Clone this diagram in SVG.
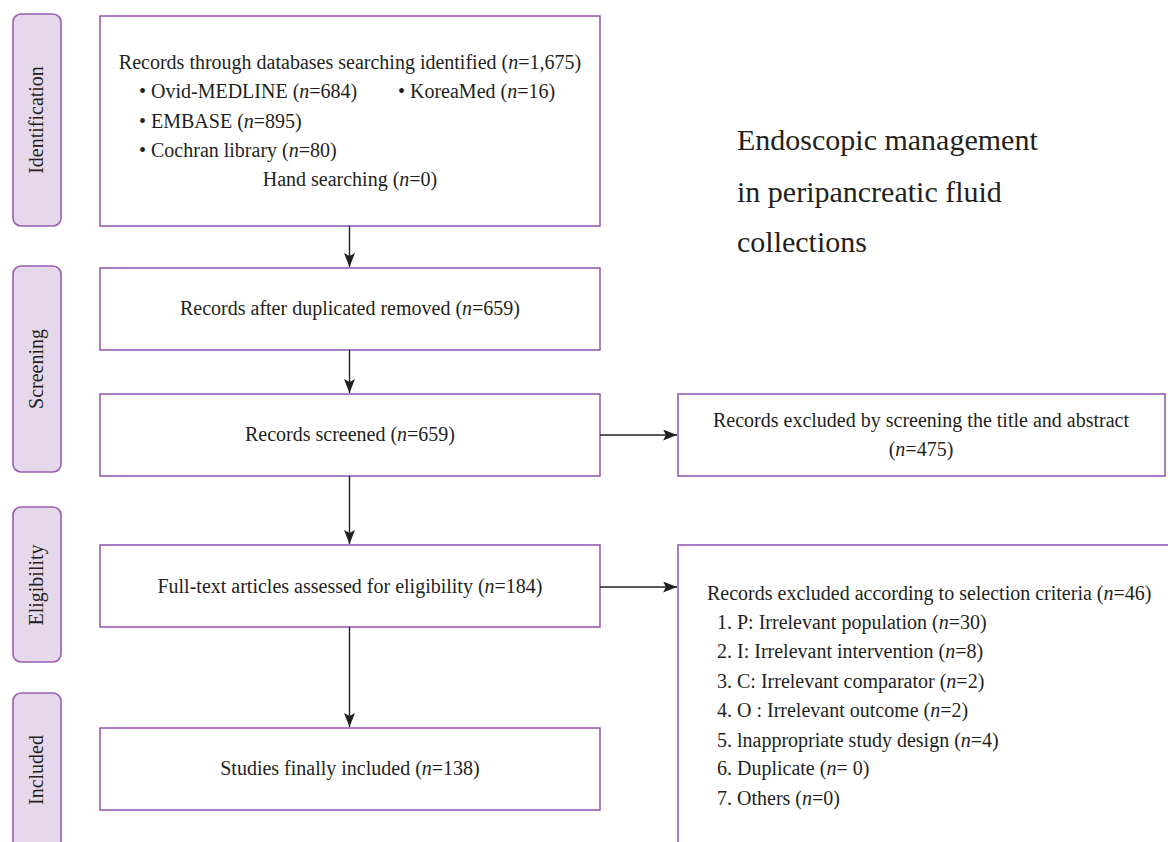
<svg xmlns="http://www.w3.org/2000/svg" width="1168" height="842" viewBox="0 0 1168 842">
<style>
text{font-family:"Liberation Serif","Times New Roman",serif;font-size:20px;fill:#231f20}
.c{text-anchor:middle}
.i{font-style:italic}
.box{fill:#fff;stroke:#9a5cb4;stroke-width:1.6}
.lab{fill:#e4d8ea;stroke:#9a5cb4;stroke-width:1.6}
.title{font-size:30px}
.cn{stroke:#231f20;stroke-width:1.4;fill:none}
</style>
<defs>
<marker id="ah" viewBox="0 0 14 11" refX="14" refY="5.5" markerWidth="14" markerHeight="11" markerUnits="userSpaceOnUse" orient="auto">
<path d="M0,0 L14,5.5 L0,11 L3,5.5 Z" fill="#231f20"/>
</marker>
</defs>

<g id="label-identification">
<rect class="lab" x="13" y="14" width="48" height="212" rx="8"/>
<text class="c" transform="translate(43,120) rotate(-90)">Identification</text>
</g>
<g id="label-screening">
<rect class="lab" x="13" y="266" width="48" height="206" rx="8"/>
<text class="c" transform="translate(43,369) rotate(-90)">Screening</text>
</g>
<g id="label-eligibility">
<rect class="lab" x="13" y="507" width="48" height="155" rx="8"/>
<text class="c" transform="translate(43,585) rotate(-90)">Eligibility</text>
</g>
<g id="label-included">
<rect class="lab" x="13" y="693" width="48" height="160" rx="8"/>
<text class="c" transform="translate(43,770) rotate(-90)">Included</text>
</g>

<g id="box-identified">
<rect class="box" x="100" y="16" width="500" height="210"/>
<text class="c" x="350" y="69">Records through databases searching identified (<tspan class="i">n</tspan>=1,675)</text>
<text x="139" y="98">• Ovid-MEDLINE (<tspan class="i">n</tspan>=684)</text>
<text x="398" y="98">• KoreaMed (<tspan class="i">n</tspan>=16)</text>
<text x="139" y="128">• EMBASE (<tspan class="i">n</tspan>=895)</text>
<text x="139" y="157">• Cochran library (<tspan class="i">n</tspan>=80)</text>
<text class="c" x="350" y="186">Hand searching (<tspan class="i">n</tspan>=0)</text>
</g>

<g id="title">
<text class="title" x="737" y="150">Endoscopic management</text>
<text class="title" x="737" y="202">in peripancreatic fluid</text>
<text class="title" x="737" y="252">collections</text>
</g>

<g id="box-duplicates">
<rect class="box" x="100" y="268" width="500" height="82"/>
<text class="c" x="350" y="315">Records after duplicated removed (<tspan class="i">n</tspan>=659)</text>
</g>
<g id="box-screened">
<rect class="box" x="100" y="394" width="500" height="82"/>
<text class="c" x="350" y="441">Records screened (<tspan class="i">n</tspan>=659)</text>
</g>
<g id="box-excluded-screening">
<rect class="box" x="678" y="394" width="487" height="82"/>
<text class="c" x="921" y="427">Records excluded by screening the title and abstract</text>
<text class="c" x="921" y="456">(<tspan class="i">n</tspan>=475)</text>
</g>
<g id="box-fulltext">
<rect class="box" x="100" y="545" width="500" height="82"/>
<text class="c" x="350" y="593">Full-text articles assessed for eligibility (<tspan class="i">n</tspan>=184)</text>
</g>
<g id="box-excluded-criteria">
<rect class="box" x="678" y="545" width="500" height="310"/>
<text x="707" y="600">Records excluded according to selection criteria (<tspan class="i">n</tspan>=46)</text>
<text x="717" y="629">1. P: Irrelevant population (<tspan class="i">n</tspan>=30)</text>
<text x="717" y="658">2. I: Irrelevant intervention (<tspan class="i">n</tspan>=8)</text>
<text x="717" y="688">3. C: Irrelevant comparator (<tspan class="i">n</tspan>=2)</text>
<text x="717" y="717">4. O : Irrelevant outcome (<tspan class="i">n</tspan>=2)</text>
<text x="717" y="747">5. lnappropriate study design (<tspan class="i">n</tspan>=4)</text>
<text x="717" y="775">6. Duplicate (<tspan class="i">n</tspan>= 0)</text>
<text x="717" y="805">7. Others (<tspan class="i">n</tspan>=0)</text>
</g>
<g id="box-included">
<rect class="box" x="100" y="728" width="500" height="82"/>
<text class="c" x="350" y="775">Studies finally included (<tspan class="i">n</tspan>=138)</text>
</g>

<g id="connectors">
<line class="cn" x1="349.5" y1="226" x2="349.5" y2="267" marker-end="url(#ah)"/>
<line class="cn" x1="349.5" y1="350" x2="349.5" y2="393" marker-end="url(#ah)"/>
<line class="cn" x1="349.5" y1="476" x2="349.5" y2="544" marker-end="url(#ah)"/>
<line class="cn" x1="349.5" y1="627" x2="349.5" y2="727" marker-end="url(#ah)"/>
<line class="cn" x1="600" y1="435" x2="677" y2="435" marker-end="url(#ah)"/>
<line class="cn" x1="600" y1="587" x2="677" y2="587" marker-end="url(#ah)"/>
</g>
</svg>
